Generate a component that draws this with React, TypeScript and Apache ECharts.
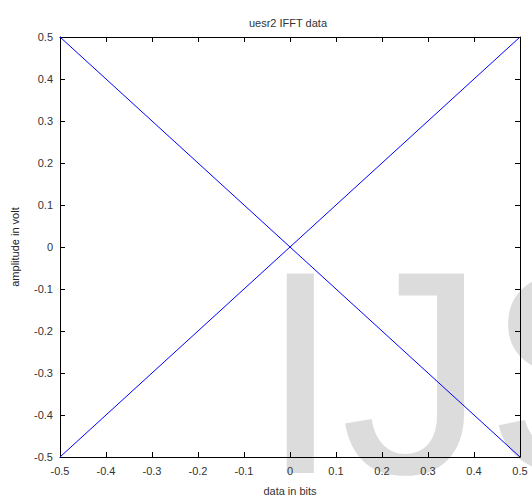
import React, { useEffect, useRef } from "react";
import * as echarts from "echarts";

// Sample positions and the two amplitude traces
const xValues = [-0.5, 0, 0.5];
const falling = [0.5, 0, -0.5];
const rising = [-0.5, 0, 0.5];

const axisMin = -0.5;
const axisMax = 0.5;
const axisStep = 0.1;

const titleText = "uesr2 IFFT data";
const xName = "data in bits";
const yName = "amplitude in volt";
const watermark = "IJS";

const fmt = (v: number) => String(Math.round(v * 10) / 10);

export default function App() {
  const ref = useRef<HTMLDivElement>(null);

  useEffect(() => {
    if (!ref.current) return;
    const chart = echarts.init(ref.current, null, { renderer: "svg" });
    const font = "'Liberation Sans', Arial, sans-serif";
    const tick = { show: true, inside: true, length: 5, lineStyle: { color: "#000", width: 1 } };
    const line = { show: true, onZero: false, lineStyle: { color: "#000", width: 1 } };
    const labelStyle = { color: "#333", fontSize: 11, fontFamily: font };

    const baseAxis = {
      type: "value" as const,
      min: axisMin,
      max: axisMax,
      interval: axisStep,
      splitLine: { show: false },
      axisLine: line,
      axisTick: tick,
    };

    chart.setOption({
      animation: false,
      backgroundColor: "#fff",
      title: {
        text: titleText,
        left: 283,
        top: 12,
        textAlign: "center",
        textStyle: { ...labelStyle, fontWeight: "normal" },
      },
      grid: { left: 60, right: 12, top: 37, bottom: 43 },
      graphic: [
        {
          type: "text",
          left: 260,
          top: 227,
          z: -10,
          silent: true,
          style: {
            text: watermark,
            fontSize: 290,
            fontFamily: font,
            fill: "#dcdcdc",
          },
        },
      ],
      xAxis: [
        {
          ...baseAxis,
          position: "bottom",
          name: xName,
          nameLocation: "middle",
          nameGap: 28,
          nameTextStyle: labelStyle,
          axisLabel: { ...labelStyle, margin: 8, formatter: fmt },
        },
        {
          ...baseAxis,
          position: "top",
          axisLabel: { show: false },
        },
      ],
      yAxis: [
        {
          ...baseAxis,
          position: "left",
          name: yName,
          nameLocation: "middle",
          nameGap: 40,
          nameTextStyle: { ...labelStyle, color: "#222" },
          axisLabel: { ...labelStyle, margin: 7, formatter: fmt },
        },
        {
          ...baseAxis,
          position: "right",
          axisLabel: { show: false },
        },
      ],
      series: [
        {
          type: "line",
          data: xValues.map((x, i) => [x, falling[i]]),
          showSymbol: false,
          lineStyle: { color: "#0000ff", width: 1 },
        },
        {
          type: "line",
          data: xValues.map((x, i) => [x, rising[i]]),
          showSymbol: false,
          lineStyle: { color: "#0000ff", width: 1 },
        },
      ],
    });

    return () => chart.dispose();
  }, []);

  return (
    <div
      ref={ref}
      style={{ position: "fixed", left: 0, top: 0, width: 532, height: 501, overflow: "hidden" }}
    />
  );
}
